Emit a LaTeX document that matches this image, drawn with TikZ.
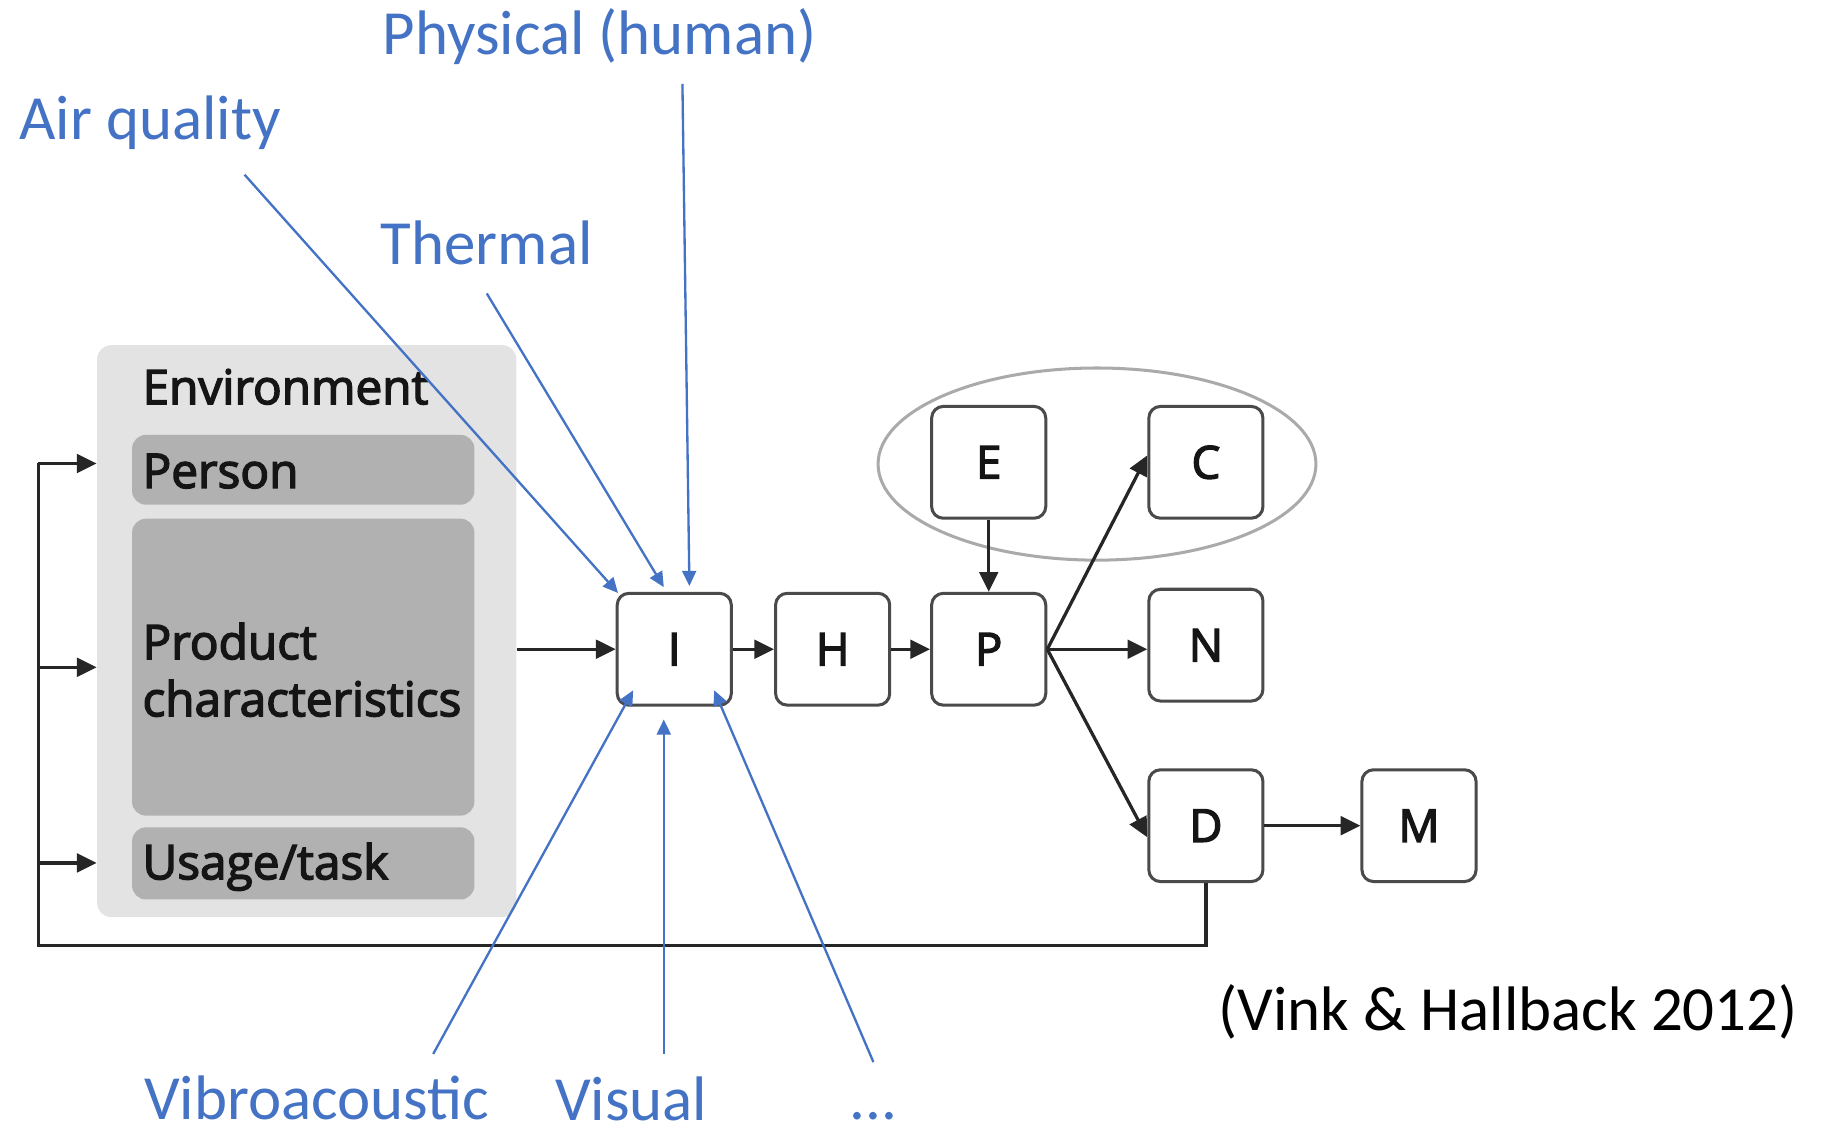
\documentclass[tikz,border=0pt]{standalone}
\usepackage{fontspec}
\setmainfont{Carlito}
\newfontfamily\diagfont{Open Sans}[FakeBold=3]
\usetikzlibrary{arrows.meta,calc}
\definecolor{officeblue}{HTML}{4472C4}
\definecolor{envgray}{HTML}{E3E3E3}
\definecolor{subgray}{HTML}{B1B1B1}
\definecolor{boxline}{HTML}{4A4A4A}
\definecolor{txtdark}{HTML}{151515}
\definecolor{ellgray}{HTML}{AAAAAA}
\begin{document}
\begin{tikzpicture}[x=0.5pt,y=-0.5pt,
  blk/.style={rounded corners=5pt, draw=boxline, line width=1.3pt, fill=white,
    minimum width=49pt, minimum height=48pt, inner sep=0pt,
    font=\diagfont\fontsize{19.5}{24}\selectfont, text=txtdark},
  envbox/.style={rounded corners=6pt, fill=envgray, anchor=north west, inner sep=0pt},
  subbox/.style={rounded corners=6pt, fill=subgray, anchor=north west, inner sep=0pt, minimum width=147pt},
  graytxt/.style={font=\diagfont\fontsize{20.5}{24.5}\selectfont, text=txtdark, anchor=base west, inner sep=0pt},
  bluelbl/.style={font=\fontsize{27}{32}\selectfont, text=officeblue, anchor=base, inner sep=0pt},
  blueln/.style={draw=officeblue, line width=1pt, -{Triangle[length=6.5pt,width=6pt]}},
  blkln/.style={draw=black!85, line width=1.4pt},
  blkarr/.style={blkln, -{Triangle[length=8.5pt,width=8pt]}}
]
\useasboundingbox (0,0) rectangle (1568,973);

% environment block
\node[envbox, minimum width=180pt, minimum height=245.5pt] (env) at (83,296) {};
\node[subbox, minimum height=30pt] (person) at (113,373) {};
\node[subbox, minimum height=127.5pt] (product) at (113,445) {};
\node[subbox, minimum height=31pt] (usage) at (113,710) {};
\node[graytxt] (tenv) at (122,347) {Environment};
\node[graytxt] (tperson) at (122,419) {Person};
\node[graytxt] (tprod1) at (122,566) {Product};
\node[graytxt] (tprod2) at (122,615) {characteristics};
\node[graytxt] (tusage) at (122,755) {Usage/task};

% process boxes
\node[blk] (I) at (579,557.5) {I};
\node[blk] (H) at (715,557.5) {H};
\node[blk] (P) at (849,557.5) {P};
\node[blk] (E) at (849,397) {E};
\node[blk] (C) at (1035.5,397) {C};
\node[blk] (N) at (1035.5,554) {N};
\node[blk] (D) at (1035.5,709) {D};
\node[blk] (M) at (1218.5,709) {M};

% ellipse around E and C
\draw[ellgray, line width=1.3pt] (942,398.5) ellipse [x radius=188, y radius=82.5];

% black connectors
\draw[blkarr] (env.east |- I.west) -- (I.west);
\draw[blkarr] (I) -- (H);
\draw[blkarr] (H) -- (P);
\draw[blkarr] (E) -- (P);
\draw[blkarr] (P.east) -- (N.west |- P.east);
\draw[blkarr] (P.east) -- ($(C.west)+(0,-6)$);
\draw[blkarr] (P.east) -- ($(D.west)+(0,10)$);
\draw[blkarr] (D) -- (M);

% feedback loop
\coordinate (fbL) at (33,812);
\coordinate (fbTop) at (33,398);
\coordinate (fbMid) at (33,573);
\coordinate (fbLow) at (33,741);
\draw[blkln] (D.south) |- (fbL) -- (fbTop);
\draw[blkarr] (fbTop) -- (env.west |- fbTop);
\draw[blkarr] (fbMid) -- (env.west |- fbMid);
\draw[blkarr] (fbLow) -- (env.west |- fbLow);

% blue labels
\node[bluelbl] (lphys) at (515,47) {Physical (human)};
\node[bluelbl] (lair) at (129,120) {Air quality};
\node[bluelbl] (ltherm) at (418,227) {Thermal};
\node[bluelbl] (lvib) at (272,961) {Vibroacoustic};
\node[bluelbl] (lvis) at (542,962) {Visual};
\node[bluelbl] (ldots) at (750,961) {...};
\node[font=\fontsize{27}{32}\selectfont, anchor=base, inner sep=0pt] (cite) at (1295,885) {(Vink \& Hallback 2012)};

% blue arrows
\coordinate (sair) at (210,150);
\coordinate (stherm) at (418,252);
\coordinate (sphys) at (586,72);
\coordinate (svib) at (372,905);
\coordinate (svis) at (570,905);
\coordinate (sdots) at (750,912);
\draw[blueln] (sair) -- ($(I.north west)+(2,1)$);
\draw[blueln] (stherm) -- ($(I.north)+(-9,-4)$);
\draw[blueln] (sphys) -- ($(I.north)+(13,-5)$);
\draw[blueln] (svib) -- ($(I.south west)+(15,-14)$);
\draw[blueln] (svis) -- ($(I.south)+(-9,11)$);
\draw[blueln] (sdots) -- ($(I.south east)+(-16,-14)$);
\end{tikzpicture}
\end{document}
